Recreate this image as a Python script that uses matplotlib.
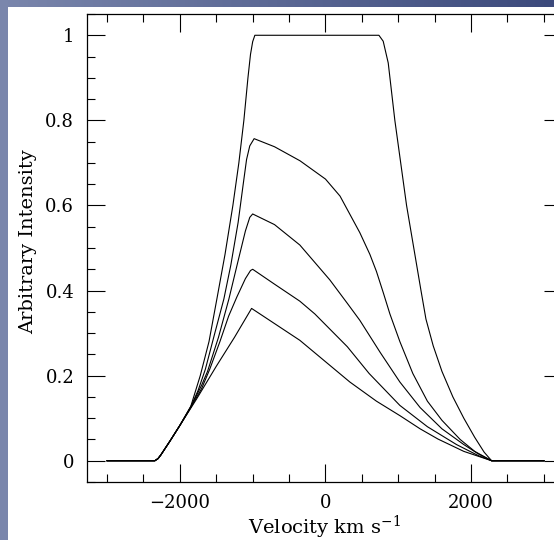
import matplotlib
matplotlib.use("Agg")
import matplotlib.pyplot as plt
import numpy as np
from matplotlib.colors import LinearSegmentedColormap
from matplotlib.ticker import MultipleLocator

# Line profiles: (velocity km/s, intensity)
PROFILE_A_V = [-3000, -2344, -2300, -2260, -2137, -2000, -1850, -1720, -1600, -1492, -1380,
               -1272, -1190, -1121, -1065, -1030, -1000, -970, 734, 793, 862, 953, 1114,
               1312, 1380, 1480, 1600, 1750, 1900, 2050, 2180, 2282, 3000]
PROFILE_A_I = [0, 0, 0.005, 0.014, 0.046, 0.083, 0.128, 0.2, 0.28, 0.38, 0.485,
               0.6, 0.7, 0.8, 0.9, 0.955, 0.985, 1.0, 1.0, 0.986, 0.935, 0.8, 0.6,
               0.4, 0.333, 0.27, 0.21, 0.15, 0.1, 0.055, 0.02, 0, 0]

PROFILE_B_V = [-3000, -2344, -2300, -2260, -2137, -2000, -1850, -1750, -1650, -1520, -1396,
               -1300, -1200, -1130, -1084, -1040, -980, -700, -350, 0, 200, 472, 610, 700,
               794, 885, 1022, 1200, 1400, 1600, 1850, 2050, 2282, 3000]
PROFILE_B_I = [0, 0, 0.005, 0.014, 0.046, 0.083, 0.127, 0.165, 0.215, 0.3, 0.38,
               0.46, 0.56, 0.65, 0.708, 0.74, 0.757, 0.738, 0.705, 0.662, 0.622, 0.536, 0.485, 0.445,
               0.395, 0.345, 0.28, 0.205, 0.14, 0.095, 0.05, 0.022, 0, 0]

PROFILE_C_V = [-3000, -2344, -2300, -2260, -2137, -2000, -1850, -1700, -1620, -1470, -1327,
               -1200, -1100, -1040, -1000, -700, -352, 60, 300, 472, 750, 1022, 1300, 1600,
               1900, 2100, 2282, 3000]
PROFILE_C_I = [0, 0, 0.005, 0.014, 0.046, 0.083, 0.126, 0.178, 0.21, 0.29, 0.38,
               0.47, 0.54, 0.572, 0.58, 0.555, 0.507, 0.425, 0.37, 0.33, 0.255, 0.185, 0.125, 0.075,
               0.038, 0.016, 0, 0]

PROFILE_D_V = [-3000, -2344, -2300, -2260, -2137, -2000, -1850, -1700, -1590, -1450, -1330,
               -1217, -1100, -1030, -1000, -700, -352, -146, 300, 600, 1022, 1400, 1800, 2100,
               2282, 3000]
PROFILE_D_I = [0, 0, 0.005, 0.014, 0.046, 0.083, 0.125, 0.17, 0.215, 0.28, 0.34,
               0.385, 0.428, 0.447, 0.45, 0.415, 0.375, 0.345, 0.268, 0.205, 0.13, 0.08, 0.038, 0.012,
               0, 0]

PROFILE_E_V = [-3000, -2344, -2300, -2260, -2137, -2000, -1771, -1500, -1250, -1015, -352,
               335, 700, 1022, 1300, 1545, 1900, 2282, 3000]
PROFILE_E_I = [0, 0, 0.005, 0.014, 0.046, 0.083, 0.145, 0.222, 0.29, 0.358, 0.283,
               0.185, 0.14, 0.106, 0.075, 0.051, 0.022, 0, 0]

PROFILES = [
    (PROFILE_A_V, PROFILE_A_I),
    (PROFILE_B_V, PROFILE_B_I),
    (PROFILE_C_V, PROFILE_C_I),
    (PROFILE_D_V, PROFILE_D_I),
    (PROFILE_E_V, PROFILE_E_I),
]

plt.rcParams["font.family"] = ["DejaVu Serif"]
plt.rcParams["mathtext.fontset"] = "dejavuserif"

fig = plt.figure(figsize=(5.54, 5.40), dpi=100)
fig.patch.set_facecolor("white")

# slide-style border strips (top and left)
strip = LinearSegmentedColormap.from_list("strip", ["#7a86ac", "#3c4a7c"])
top_ax = fig.add_axes([0, 1 - 7.5 / 540, 1, 7.5 / 540])
top_ax.imshow(np.linspace(0, 1, 256)[None, :], aspect="auto", cmap=strip)
top_ax.axis("off")
left_ax = fig.add_axes([0, 0, 7.5 / 554, 1])
left_ax.imshow(np.zeros((2, 2)), aspect="auto", cmap=strip, vmin=0, vmax=1)
left_ax.axis("off")

ax = fig.add_axes([86.7 / 554, (540 - 482) / 540, (561.7 - 86.7) / 554, (482 - 14) / 540])
for v, i in PROFILES:
    ax.plot(v, i, color="black", linewidth=0.8)

ax.set_xlim(-3280, 3245)
ax.set_ylim(-0.05, 1.05)
ax.xaxis.set_minor_locator(MultipleLocator(500))
ax.yaxis.set_minor_locator(MultipleLocator(0.05))
ax.set_yticks([0, 0.2, 0.4, 0.6, 0.8, 1.0])
ax.set_yticklabels(["0", "0.2", "0.4", "0.6", "0.8", "1"])
ax.set_xticks([-2000, 0, 2000])
ax.set_xticklabels(["\u22122000", "0", "2000"])
ax.tick_params(which="both", direction="in", top=True, right=True, width=0.8,
               labelsize=13)
ax.tick_params(axis="y", pad=9)
ax.tick_params(axis="x", pad=9)
ax.tick_params(which="major", length=13)
ax.tick_params(which="minor", length=5.5)
for s in ax.spines.values():
    s.set_linewidth(0.9)

ax.set_xlabel("Velocity km s$^{-1}$", fontsize=14, va="center")
ax.xaxis.set_label_coords(0.5, -0.098)
ax.set_ylabel("Arbitrary Intensity", fontsize=14, va="center")
ax.yaxis.set_label_coords(-0.124, 0.513)

fig.savefig("out.png", dpi=100)
